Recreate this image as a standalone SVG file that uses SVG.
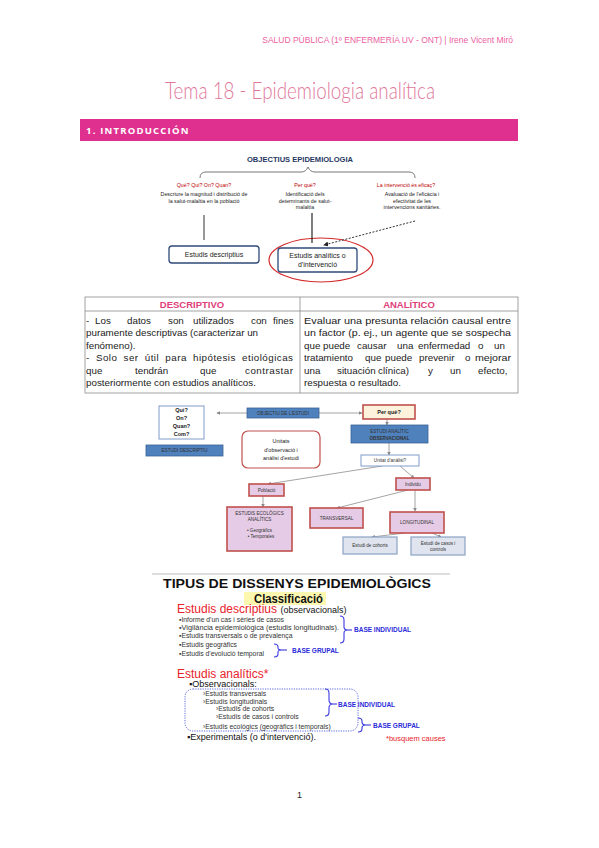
<svg xmlns="http://www.w3.org/2000/svg" width="599" height="848" viewBox="0 0 599 848">
<defs>
<style>
.sans{font-family:"Liberation Sans",Arial,sans-serif}
.hdr{font-family:"Liberation Sans",sans-serif;font-size:8.5px;fill:#ec5fa2}
.title{font-family:Lato,"Open Sans",sans-serif;font-weight:300;font-size:24px;fill:#e0789a}
.bar{fill:#e0308f}
.bartxt{font-family:"Open Sans","Liberation Sans",sans-serif;font-weight:bold;font-size:9.5px;fill:#fff;letter-spacing:1.2px}
.ot{font-family:"Liberation Sans",sans-serif;font-size:8px;font-weight:bold;fill:#1f3864}
.ored{font-family:"Liberation Sans",sans-serif;font-size:5.3px;fill:#c00000;text-anchor:middle}
.odesc{font-family:"Liberation Sans",sans-serif;font-size:5.3px;fill:#222;text-anchor:middle}
.obox{fill:#fff;stroke:#2f4a7a;stroke-width:1.3}
.obt{font-family:"Liberation Sans",sans-serif;font-size:7px;fill:#222;text-anchor:middle}
.th{font-family:"Liberation Sans",sans-serif;font-size:9.5px;font-weight:bold;fill:#e0407a;text-anchor:middle}
.td{font-family:"Liberation Sans",sans-serif;font-size:9.8px;fill:#222}
.tl{stroke:#8a8a8a;stroke-width:0.8;fill:none}
.blue{fill:#4f81bd;stroke:#3a6496;stroke-width:0.8}
.grey{fill:#dfe4ee;stroke:#8aa2c4;stroke-width:1.2}
.wb{fill:#fff;stroke:#7f9cc8;stroke-width:1}
.s5{font-family:"Liberation Sans",sans-serif;font-size:4.6px;fill:#333;text-anchor:middle}
.s6{font-family:"Liberation Sans",sans-serif;font-size:5.5px;fill:#1a1a1a;text-anchor:middle}
.conn{stroke:#9a9a9a;stroke-width:0.9;fill:none}
.bl{font-family:"Liberation Sans",sans-serif;font-size:6.8px;fill:#333}
.big{font-family:"Liberation Sans",sans-serif;font-size:12px;fill:#e8232b}
.bk{font-family:"Liberation Sans",sans-serif;font-size:9px;fill:#111}
.base{font-family:"Liberation Sans",sans-serif;font-size:6.5px;font-weight:bold;fill:#2b2bd8}
.brace{stroke:#3a3ae0;stroke-width:1.1;fill:none}
</style>
<marker id="ag" viewBox="0 0 6 6" refX="5" refY="3" markerWidth="4" markerHeight="4" orient="auto"><path d="M0,0 L6,3 L0,6 z" fill="#8a8a8a"/></marker>
<marker id="ab" viewBox="0 0 6 6" refX="5" refY="3" markerWidth="5" markerHeight="5" orient="auto"><path d="M0,0 L6,3 L0,6 z" fill="#222"/></marker>
</defs>
<rect width="599" height="848" fill="#fff"/>

<!-- header -->
<text class="hdr" x="513" y="43" text-anchor="end">SALUD PÚBLICA (1º ENFERMERÍA UV - ONT) | Irene Vicent Miró</text>
<text class="title" x="165" y="99" textLength="270" lengthAdjust="spacingAndGlyphs">Tema 18 - Epidemiologia analítica</text>
<rect class="bar" x="80" y="119" width="438" height="22"/>
<text class="bartxt" x="86" y="133.5">1. INTRODUCCIÓN</text>

<!-- Objectius diagram -->
<g id="objectius">
<text class="ot" x="247" y="162" textLength="106" lengthAdjust="spacingAndGlyphs">OBJECTIUS EPIDEMIOLOGIA</text>
<path d="M200,178 Q200,172 206,172 L301,172 Q306,172 308,167 Q310,172 315,172 L409,172 Q415,172 415,178" fill="none" stroke="#777" stroke-width="1"/>
</g>
<g id="obj-que">
<text class="ored" x="204" y="187">Què? Qui? On? Quan?</text>
<text class="odesc" x="204" y="196">Descriure la magnitud i distribució de</text>
<text class="odesc" x="204" y="202.5">la salut-malaltia en la població</text>
</g>
<g id="obj-perque">
<text class="ored" x="305" y="187">Per què?</text>
<text class="odesc" x="305" y="196">Identificació dels</text>
<text class="odesc" x="305" y="202.5">determinants de salut-</text>
<text class="odesc" x="305" y="209">malaltia</text>
</g>
<g id="obj-eficac">
<text class="ored" x="406" y="187">La intervenció és eficaç?</text>
<text class="odesc" x="412" y="196">Avaluació de l'eficàcia i</text>
<text class="odesc" x="412" y="202.5">efectivitat de les</text>
<text class="odesc" x="412" y="209">intervencions sanitàries.</text>
</g>
<g id="obj-descriptius">
<rect class="obox" x="169" y="246" width="90" height="17" rx="3"/>
<text class="obt" x="214" y="257">Estudis descriptius</text>
</g>
<g id="obj-analitics">
<ellipse cx="321" cy="260" rx="52" ry="22" fill="none" stroke="#d42a2a" stroke-width="1.2"/>
<rect class="obox" x="278" y="248" width="79" height="24" rx="3"/>
<text class="obt" x="317.5" y="258">Estudis analítics o</text>
<text class="obt" x="317.5" y="267">d'intervenció</text>
</g>
<g id="obj-connectors">
<line x1="204" y1="215" x2="204" y2="240" stroke="#333" stroke-width="1"/>
<line x1="312" y1="213" x2="312" y2="243" stroke="#111" stroke-width="1.1"/>
<line x1="415" y1="221" x2="324" y2="245" stroke="#333" stroke-width="1" stroke-dasharray="2,1.5" marker-end="url(#ab)"/>
</g>

<!-- Table -->
<g id="tabla">
<rect class="tl" x="85" y="297" width="433" height="96"/>
<line class="tl" x1="85" y1="311" x2="518" y2="311"/>
<line class="tl" x1="300" y1="297" x2="300" y2="393"/>
<text class="th" x="192" y="307.5">DESCRIPTIVO</text>
<text class="th" x="409" y="307.5">ANALÍTICO</text>
<g class="td">
<text x="86" y="323.5">-</text><text x="95" y="323.5">Los</text><text x="127" y="323.5">datos</text><text x="168" y="323.5">son</text><text x="193" y="323.5">utilizados</text><text x="251" y="323.5">con</text><text x="273" y="323.5">fines</text>
<text x="86" y="336">puramente descriptivas (caracterizar un</text>
<text x="86" y="348.5">fenómeno).</text>
<text x="86" y="361" word-spacing="3" textLength="207" lengthAdjust="spacing">- Solo ser útil para hipótesis etiológicas</text>
<text x="86" y="373.5">que</text><text x="135" y="373.5">tendrán</text><text x="200" y="373.5">que</text><text x="245" y="373.5" textLength="48" lengthAdjust="spacing">contrastar</text>
<text x="86" y="386">posteriormente con estudios analíticos.</text>
<text x="304" y="323.5" textLength="207" lengthAdjust="spacingAndGlyphs">Evaluar una presunta relación causal entre</text>
<text x="304" y="336" textLength="207" lengthAdjust="spacingAndGlyphs">un factor (p. ej., un agente que se sospecha</text>
<text x="304" y="348.5">que</text><text x="323" y="348.5">puede</text><text x="357" y="348.5">causar</text><text x="397" y="348.5">una</text><text x="418" y="348.5">enfermedad</text><text x="478" y="348.5">o</text><text x="494" y="348.5">un</text>
<text x="304" y="361">tratamiento</text><text x="365" y="361">que</text><text x="385" y="361">puede</text><text x="419" y="361">prevenir</text><text x="465" y="361">o</text><text x="475" y="361" textLength="36" lengthAdjust="spacingAndGlyphs">mejorar</text>
<text x="304" y="373.5">una</text><text x="337" y="373.5">situación</text><text x="378" y="373.5">clínica)</text><text x="428" y="373.5">y</text><text x="450" y="373.5">un</text><text x="478" y="373.5">efecto,</text>
<text x="304" y="386">respuesta o resultado.</text>
</g>
</g>

<!-- Second diagram -->
<g id="connectors">
<line class="conn" x1="247" y1="413" x2="217" y2="413" marker-end="url(#ag)"/>
<line class="conn" x1="319" y1="413" x2="362" y2="413" marker-end="url(#ag)"/>
<line class="conn" x1="387" y1="419" x2="387" y2="425" marker-end="url(#ag)"/>
<line class="conn" x1="389" y1="443" x2="389" y2="455" marker-end="url(#ag)"/>
<line class="conn" x1="382" y1="466" x2="268" y2="484" marker-end="url(#ag)"/>
<line class="conn" x1="400" y1="466" x2="414" y2="478" marker-end="url(#ag)"/>
<line class="conn" x1="263" y1="496" x2="263" y2="507" marker-end="url(#ag)"/>
<line class="conn" x1="408" y1="490" x2="337" y2="508" marker-end="url(#ag)"/>
<line class="conn" x1="415" y1="490" x2="415" y2="511" marker-end="url(#ag)"/>
<line class="conn" x1="405" y1="533" x2="372" y2="537" marker-end="url(#ag)"/>
<line class="conn" x1="432" y1="533" x2="441" y2="537" marker-end="url(#ag)"/>
</g>
<g id="n-qui">
<rect class="wb" x="159" y="406" width="45" height="33"/>
<text class="s6" x="181.5" y="412" font-weight="bold">Qui?</text>
<text class="s6" x="181.5" y="420" font-weight="bold">On?</text>
<text class="s6" x="181.5" y="428" font-weight="bold">Quan?</text>
<text class="s6" x="181.5" y="436" font-weight="bold">Com?</text>
</g>
<g id="n-estudidesc">
<rect class="blue" x="146" y="445" width="77" height="11" stroke="#c0504d" stroke-width="1.6"/>
<text class="s5" x="184.5" y="452" fill="#1a2a4a">ESTUDI DESCRIPTIU</text>
</g>
<g id="n-objectiu">
<rect class="blue" x="247" y="408" width="72" height="10"/>
<text class="s5" x="283" y="414.8" fill="#1a2a4a">OBJECTIU DE L'ESTUDI</text>
</g>
<g id="n-perque">
<rect x="363" y="405" width="52" height="14" stroke="#c0504d" stroke-width="1.6" fill="#fdf2dc"/>
<text class="s6" x="389" y="414" font-weight="bold">Per què?</text>
</g>
<g id="n-analitic">
<rect class="blue" x="351" y="425" width="77" height="18"/>
<text class="s5" x="389.5" y="432.5" fill="#1a2a4a">ESTUDI ANALÍTIC</text>
<text class="s5" x="389.5" y="439.5" fill="#1a2a4a" font-weight="bold">OBSERVACIONAL</text>
</g>
<g id="n-unitat">
<rect class="wb" x="361" y="455" width="58" height="11"/>
<text class="s5" x="390" y="462.3">Unitat d'anàlisi?</text>
</g>
<g id="n-unitats">
<rect x="242" y="431" width="78" height="37" rx="6" fill="#fff" stroke="#c0504d" stroke-width="1.2"/>
<text class="s6" x="281" y="443" font-size="6.3" fill="#444">Unitats</text>
<text class="s6" x="281" y="451.5" font-size="6.3" fill="#444">d'observació i</text>
<text class="s6" x="281" y="460" font-size="6.3" fill="#444">anàlisi d'estudi</text>
</g>
<g id="n-poblacio">
<rect x="249" y="484" width="35" height="12" fill="#e6cbe6" stroke="#c0504d" stroke-width="1.6"/>
<text class="s5" x="266.5" y="491.8">Població</text>
</g>
<g id="n-ecologics">
<rect x="227" y="507" width="65" height="44" fill="#e6cbe6" stroke="#c0504d" stroke-width="1.6"/>
<text class="s5" x="259.5" y="515">ESTUDIS ECOLÒGICS</text>
<text class="s5" x="259.5" y="521">ANALÍTICS</text>
<text class="s5" x="259.5" y="532">•   Geogràfics</text>
<text class="s5" x="261" y="538">•   Temporales</text>
</g>
<g id="n-individu">
<rect x="396" y="478" width="34" height="12" fill="#e6cbe6" stroke="#c0504d" stroke-width="1.6"/>
<text class="s5" x="413" y="485.8">Individu</text>
</g>
<g id="n-transversal">
<rect x="310" y="508" width="53" height="20" fill="#e6cbe6" stroke="#c0504d" stroke-width="1.6"/>
<text class="s5" x="336.5" y="519.5">TRANSVERSAL</text>
</g>
<g id="n-longitudinal">
<rect x="390" y="512" width="54" height="21" fill="#e6cbe6" stroke="#c0504d" stroke-width="1.6"/>
<text class="s5" x="417" y="524">LONGITUDINAL</text>
</g>
<g id="n-cohorts">
<rect class="grey" x="343" y="537" width="54" height="17"/>
<text class="s5" x="370" y="547">Estudi de cohorts</text>
</g>
<g id="n-casos">
<rect class="grey" x="411" y="537" width="54" height="18"/>
<text class="s5" x="438" y="544.5">Estudi de casos i</text>
<text class="s5" x="438" y="550.5">controls</text>
</g>

<!-- Third: Tipus de dissenys -->
<g id="tipus">
<line x1="152" y1="574" x2="450" y2="574" stroke="#bbb" stroke-width="1"/>
<text class="sans" x="163" y="588" font-size="13" font-weight="bold" fill="#111" textLength="268" lengthAdjust="spacingAndGlyphs">TIPUS DE DISSENYS EPIDEMIOLÒGICS</text>
<rect x="244" y="592" width="82" height="13" fill="#fdf7b0"/>
<text class="sans" x="254" y="602.5" font-size="12.5" font-weight="bold" fill="#111" textLength="69" lengthAdjust="spacingAndGlyphs">Classificació</text>
<text class="big" x="177" y="612.5">Estudis descriptius <tspan class="bk" font-size="9.5">(observacionals)</tspan></text>
<text class="bl" x="179" y="622">▪Informe d'un cas i sèries de casos</text>
<text class="bl" x="179" y="630" textLength="160" lengthAdjust="spacingAndGlyphs">▪Vigilància epidemiològica (estudis longitudinals).</text>
<text class="bl" x="179" y="638">▪Estudis transversals o de prevalença</text>
<text class="bl" x="179" y="646.5">▪Estudis geogràfics</text>
<text class="bl" x="179" y="655.5">▪Estudis d'evolució temporal</text>
<path class="brace" d="M340,616 Q344,616 344,620 L344,627 Q344,630 348,630 Q344,630 344,633 L344,639 Q344,643 340,643"/>
<line class="brace" x1="348" y1="630" x2="352" y2="630"/>
<text class="base" x="354" y="632">BASE INDIVIDUAL</text>
<path class="brace" d="M274,644 Q278,644 278,647 L278,648 Q278,650 282,650 Q278,650 278,652 L278,654 Q278,657 274,657"/>
<line class="brace" x1="282" y1="650" x2="287" y2="650"/>
<text class="base" x="292" y="653">BASE GRUPAL</text>

<text class="big" x="177" y="677.5">Estudis analítics*</text>
<text class="bk" x="189" y="687">▪Observacionals:</text>
<rect x="185" y="689" width="173" height="42" rx="8" fill="none" stroke="#4a5ad8" stroke-width="0.9" stroke-dasharray="1.2,1.2"/>
<text class="bl" x="203" y="695.5">›Estudis transversals</text>
<text class="bl" x="203" y="703.5">›Estudis longitudinals</text>
<text class="bl" x="216" y="711">›Estudis de cohorts</text>
<text class="bl" x="216" y="719">›Estudis de casos i controls</text>
<text class="bl" x="203" y="729">›Estudis ecològics (geogràfics i temporals)</text>
<path class="brace" d="M325,689 Q329,689 329,693 L329,700 Q329,704 333,704 Q329,704 329,708 L329,712 Q329,716 325,716"/>
<line class="brace" x1="333" y1="704" x2="337" y2="704"/>
<text class="base" x="338" y="706.5">BASE INDIVIDUAL</text>
<path class="brace" d="M358,718 Q362,718 362,721 L362,722 Q362,725 366,725 Q362,725 362,728 L362,729 Q362,732 358,732"/>
<line class="brace" x1="366" y1="725" x2="371" y2="725"/>
<text class="base" x="373" y="728">BASE GRUPAL</text>
<text class="bk" x="187" y="740">▪Experimentals (o d'intervenció).</text>
<text class="sans" x="386" y="741" font-size="7.5" fill="#e8232b">*busquem causes</text>
</g>

<text class="sans" x="299.5" y="798" font-size="9" fill="#222" text-anchor="middle">1</text>
</svg>
